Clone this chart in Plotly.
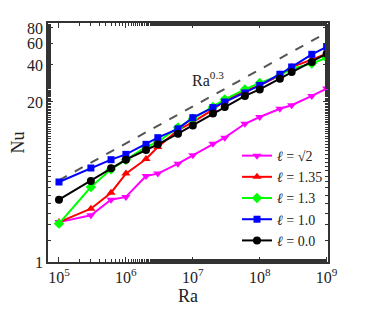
import numpy as np
import plotly.graph_objects as go

Ra = [1e5, 3e5, 6e5, 1e6, 2e6, 3e6, 6e6, 1e7, 2e7, 3e7, 6e7, 1e8, 2e8, 3e8, 6e8, 1e9]
nu_sqrt2 = [2.11, 2.40, 3.21, 3.38, 5.00, 5.23, 6.30, 7.36, 9.16, 10.25, 13.3, 15.1, 17.6, 18.8, 22.4, 25.7]
nu_135 = [2.11, 2.71, 3.66, 5.23, 6.88, 8.61, 11.8, 13.7, 17.3, 20.6, 24.6, 27.3, 32.9, 38.5, 44.2, 49.4]
nu_13 = [2.05, 4.07, 5.67, 6.79, 8.61, 9.46, 12.4, 14.6, 18.2, 21.0, 25.3, 28.5, 32.9, 37.3, 41.0, 45.8]
nu_10 = [4.47, 5.81, 6.79, 7.50, 9.05, 10.25, 12.1, 14.9, 18.0, 20.0, 23.7, 27.3, 33.6, 38.5, 48.8, 56.0]
nu_00 = [3.21, 4.56, 5.77, 6.79, 8.14, 9.05, 11.05, 12.9, 16.1, 18.2, 22.4, 25.3, 30.9, 35.1, 42.3, 49.4]

series_names = ["<i>ℓ</i> = √2", "<i>ℓ</i> = 1.35", "<i>ℓ</i> = 1.3", "<i>ℓ</i> = 1.0", "<i>ℓ</i> = 0.0"]
series_vals = [nu_sqrt2, nu_135, nu_13, nu_10, nu_00]
colors = ["#FF00FF", "#FF0000", "#00FF00", "#0000FF", "#000000"]
symbols = ["triangle-down", "triangle-up", "diamond", "square", "circle"]

ref_x = [1e5, 1e9]
ref_coef = 0.146
ref_exp = 0.3

x_tickvals = [1e5, 1e6, 1e7, 1e8, 1e9]
x_ticktext = ["10<sup>5</sup>", "10<sup>6</sup>", "10<sup>7</sup>", "10<sup>8</sup>", "10<sup>9</sup>"]
y_tickvals = [1, 20, 40, 60, 80]

SERIF = "Liberation Serif, Times New Roman, serif"

fig = go.Figure()
fig.add_trace(go.Scatter(
    x=ref_x, y=[ref_coef * r ** ref_exp for r in ref_x], mode="lines",
    line=dict(color="#555555", width=2, dash="dash"), showlegend=False))

for name, vals, c, s in zip(series_names, series_vals, colors, symbols):
    fig.add_trace(go.Scatter(
        x=Ra, y=vals, name=name, mode="lines+markers",
        line=dict(color=c, width=2),
        marker=dict(color=c, symbol=s, size=8 if s != "square" else 7)))

fig.add_annotation(x=np.log10(1.7e7), y=np.log10(31), text="Ra<sup>0.3</sup>",
                   showarrow=False, font=dict(family=SERIF, size=16, color="#222222"))

axis_common = dict(
    showline=True, linecolor="#333333", linewidth=1.5, mirror="ticks",
    ticks="inside", ticklen=5, tickcolor="#333333", showgrid=False, zeroline=False,
    tickfont=dict(family=SERIF, size=16, color="#222222"),
    minor=dict(ticks="inside", ticklen=3, tickcolor="#333333", showgrid=False),
)

fig.update_xaxes(type="log", range=[4.836, 9.02], tickvals=x_tickvals, ticktext=x_ticktext,
                 title=dict(text="Ra", font=dict(family=SERIF, size=18, color="#222222"), standoff=2),
                 **axis_common)
fig.update_yaxes(type="log", range=[0, 1.943], tickvals=y_tickvals,
                 title=dict(text="Nu", font=dict(family=SERIF, size=18, color="#222222"), standoff=6),
                 **axis_common)

fig.update_layout(
    width=366, height=304,
    margin=dict(l=40, r=46, t=15, b=50, autoexpand=False),
    paper_bgcolor="white", plot_bgcolor="white",
    font=dict(family=SERIF, color="#222222"),
    legend=dict(x=1.0, y=0.025, xanchor="right", yanchor="bottom",
                bgcolor="rgba(0,0,0,0)", font=dict(size=14, family=SERIF),
                tracegroupgap=0, itemwidth=30),
)

fig.write_html("out.html")
